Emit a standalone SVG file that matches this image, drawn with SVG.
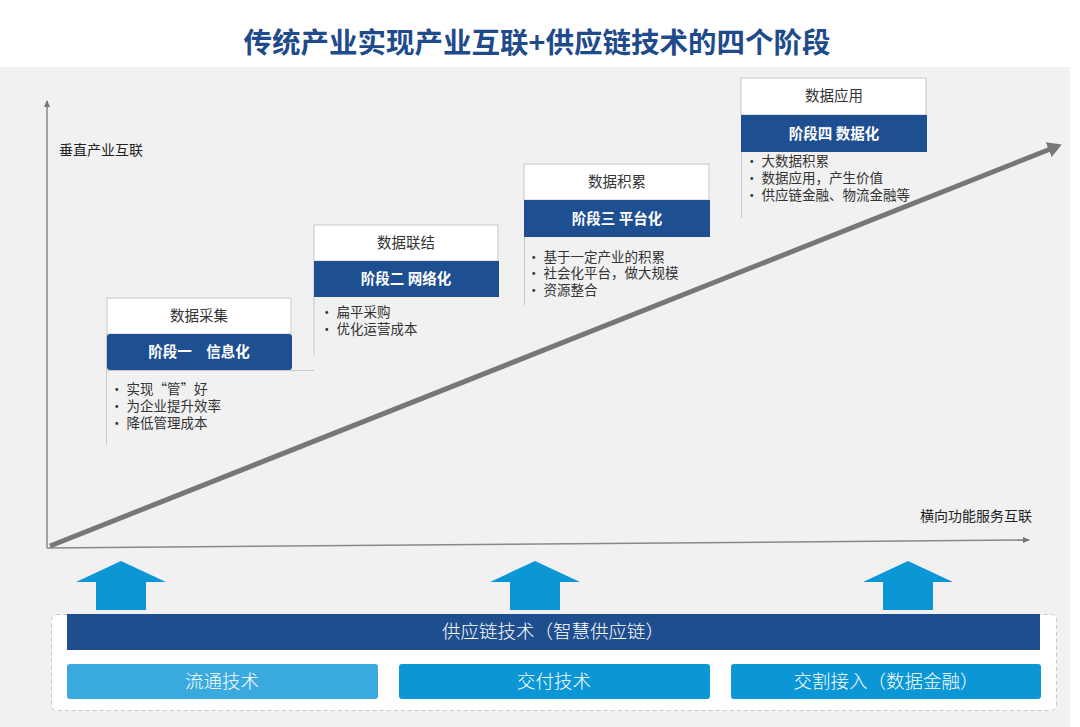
<svg xmlns="http://www.w3.org/2000/svg" width="1080" height="727" viewBox="0 0 1080 727">
<defs>
<style>
text{font-family:"Noto Sans CJK SC","Noto Sans",sans-serif;}
.title{font-size:28.5px;font-weight:700;fill:#1f4a8c;}
.lbl{font-size:14px;fill:#222;}
.wbox{fill:#fff;stroke:#c8c8c8;stroke-width:1;}
.bbox{fill:#1d4f91;}
.wt{font-size:14.5px;fill:#333;text-anchor:middle;}
.bt{font-size:14.5px;font-weight:700;fill:#fff;text-anchor:middle;}
.bul{font-size:13.5px;fill:#333;}
.side{stroke:#c8c8c8;stroke-width:1;fill:none;}
.up{fill:#0b96d6;}
.tech{font-size:18.5px;fill:#fff;text-anchor:middle;font-weight:300;}
</style>
<marker id="ah" markerWidth="8" markerHeight="8" refX="6" refY="4" orient="auto" markerUnits="userSpaceOnUse">
<path d="M0,1 L7,4 L0,7 Z" fill="#777"/>
</marker>
<marker id="big" markerWidth="30" markerHeight="30" refX="10" refY="10" orient="auto" markerUnits="userSpaceOnUse">
<path d="M0,2 L14,10 L0,18 Z" fill="#777"/>
</marker>
</defs>
<rect x="0" y="0" width="1080" height="727" fill="#fff"/>
<rect x="0" y="67" width="1070" height="660" fill="#f1f1f2"/>
<text class="title" x="537" y="53" text-anchor="middle">传统产业实现产业互联+供应链技术的四个阶段</text>

<g id="connectors">
<line x1="47" y1="548" x2="47" y2="101" stroke="#888" stroke-width="1.5" marker-end="url(#ah)"/>
<line x1="47" y1="548" x2="1029" y2="540" stroke="#888" stroke-width="1.5" marker-end="url(#ah)"/>
<line x1="50" y1="546" x2="1058" y2="146" stroke="#777" stroke-width="5" marker-end="url(#big)"/>
</g>
<text class="lbl" x="59" y="155">垂直产业互联</text>
<text class="lbl" x="1032" y="521" text-anchor="end">横向功能服务互联</text>

<g id="stage1">
<path class="side" d="M106.5,334 V445 M106.5,370.5 H314"/>
<rect class="wbox" x="107" y="298" width="184" height="36"/>
<rect class="bbox" x="107" y="334" width="185" height="36" rx="3"/>
<text class="wt" x="199" y="321">数据采集</text>
<text class="bt" x="199" y="357">阶段一　信息化</text>
<text class="bul" x="110" y="394">• 实现“管”好</text>
<text class="bul" x="110" y="411">• 为企业提升效率</text>
<text class="bul" x="110" y="428">• 降低管理成本</text>
</g>
<g id="stage2">
<path class="side" d="M314,261 V355"/>
<rect class="wbox" x="314" y="225" width="184" height="36"/>
<rect class="bbox" x="314" y="261" width="185" height="36"/>
<text class="wt" x="406" y="248">数据联结</text>
<text class="bt" x="406" y="284">阶段二  网络化</text>
<text class="bul" x="320" y="317">• 扁平采购</text>
<text class="bul" x="320" y="334">• 优化运营成本</text>
</g>
<g id="stage3">
<path class="side" d="M524.5,200 V305"/>
<rect class="wbox" x="524" y="164" width="185" height="36"/>
<rect class="bbox" x="524" y="200" width="186" height="37"/>
<text class="wt" x="617" y="187">数据积累</text>
<text class="bt" x="617" y="224">阶段三  平台化</text>
<text class="bul" x="527" y="262">• 基于一定产业的积累</text>
<text class="bul" x="527" y="278">• 社会化平台，做大规模</text>
<text class="bul" x="527" y="295">• 资源整合</text>
</g>
<g id="stage4">
<path class="side" d="M741.5,115 V218"/>
<rect class="wbox" x="741" y="78" width="185" height="37"/>
<rect class="bbox" x="741" y="115" width="186" height="37"/>
<text class="wt" x="834" y="101">数据应用</text>
<text class="bt" x="834" y="139">阶段四  数据化</text>
<text class="bul" x="745" y="166">• 大数据积累</text>
<text class="bul" x="745" y="183">• 数据应用，产生价值</text>
<text class="bul" x="745" y="200">• 供应链金融、物流金融等</text>
</g>

<g id="arrows">
<path class="up" d="M121,561 L166,582 L146,582 L146,610 L96,610 L96,582 L76,582 Z"/>
<path class="up" d="M535,561 L580,582 L560,582 L560,610 L510,610 L510,582 L490,582 Z"/>
<path class="up" d="M908,561 L953,582 L933,582 L933,610 L883,610 L883,582 L863,582 Z"/>
</g>

<g id="base">
<rect x="51.5" y="614.5" width="1005" height="96" rx="5" fill="#fff" stroke="#c9c9c9" stroke-dasharray="4,3"/>
<rect x="67" y="614" width="973" height="36" fill="#1f4e8f"/>
<text class="tech" x="553" y="638">供应链技术（智慧供应链）</text>
</g>
<g id="tech1">
<rect x="67" y="664" width="311" height="35" rx="3" fill="#3aa9dd"/>
<text class="tech" x="222" y="688">流通技术</text>
</g>
<g id="tech2">
<rect x="399" y="664" width="311" height="35" rx="3" fill="#0b96d6"/>
<text class="tech" x="554" y="688">交付技术</text>
</g>
<g id="tech3">
<rect x="731" y="664" width="310" height="35" rx="3" fill="#0b96d6"/>
<text class="tech" x="886" y="688">交割接入（数据金融）</text>
</g>
</svg>
